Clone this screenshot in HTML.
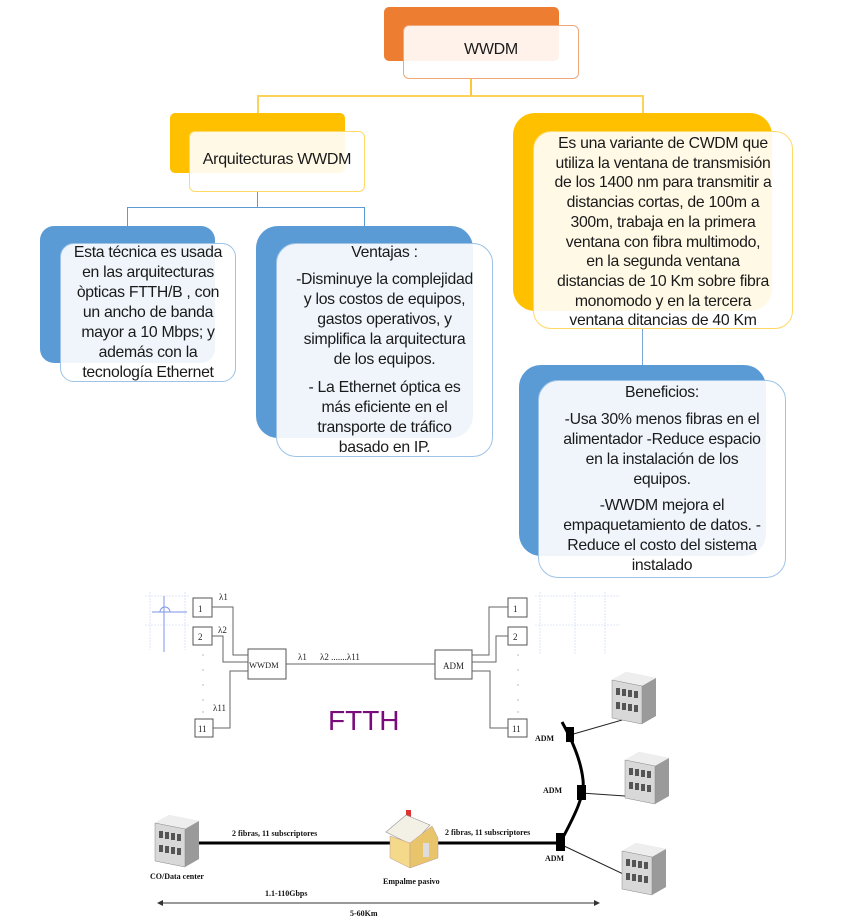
<!DOCTYPE html>
<html><head><meta charset="utf-8"><style>
body{margin:0;width:841px;height:922px;background:#fff;position:relative;overflow:hidden;font-family:"Liberation Sans",sans-serif;color:#1a1a1a}
.b{position:absolute;border-radius:14px;box-sizing:border-box}
.t{position:absolute;text-align:center;white-space:nowrap;font-size:15.8px;line-height:20px;letter-spacing:-0.3px}
.l{position:absolute}
</style></head><body>
<!-- connectors -->
<div class="l" style="left:470px;top:78px;width:2px;height:18px;background:#fcc83a"></div>
<div class="l" style="left:257px;top:95px;width:387px;height:2px;background:#fcd35a"></div>
<div class="l" style="left:257px;top:95px;width:2px;height:18px;background:#fcd35a"></div>
<div class="l" style="left:642px;top:95px;width:2px;height:18px;background:#fcd35a"></div>
<div class="l" style="left:257px;top:191px;width:1px;height:17px;background:#5b9bd5"></div>
<div class="l" style="left:127px;top:207px;width:238px;height:1px;background:#5b9bd5"></div>
<div class="l" style="left:127px;top:207px;width:1px;height:20px;background:#5b9bd5"></div>
<div class="l" style="left:364px;top:207px;width:1px;height:20px;background:#5b9bd5"></div>
<div class="l" style="left:642px;top:328px;width:1px;height:38px;background:#7aa7d8"></div>

<!-- WWDM -->
<div class="b" style="left:384px;top:7px;width:175px;height:54px;background:#ed7d31;border-radius:5px"></div>
<div class="b" style="left:403px;top:25px;width:176px;height:54px;background:rgba(255,255,255,0.9);border:1px solid #f0a77a;border-radius:6px"></div>
<div class="t" style="left:403px;top:40px;width:176px;font-size:16px">WWDM</div>

<!-- Arquitecturas -->
<div class="b" style="left:170px;top:113px;width:175px;height:60px;background:#ffc000;border-radius:5px"></div>
<div class="b" style="left:189px;top:131px;width:176px;height:61px;background:rgba(255,255,255,0.9);border:1px solid #ffd966;border-radius:6px"></div>
<div class="t" style="left:189px;top:150px;width:176px;font-size:16px">Arquitecturas WWDM</div>

<!-- Right yellow -->
<div class="b" style="left:513px;top:113px;width:259px;height:198px;background:#ffc000;border-radius:22px"></div>
<div class="b" style="left:533px;top:131px;width:260px;height:198px;background:rgba(255,255,255,0.9);border:1px solid #ffd966;border-radius:18px"></div>
<div class="t" style="left:533px;top:134px;width:260px;line-height:19.7px">Es una variante de CWDM que<br>utiliza la ventana de transmisión<br>de los 1400 nm para transmitir a<br>distancias cortas, de 100m a<br>300m, trabaja en la primera<br>ventana con fibra multimodo,<br>en la segunda ventana<br>distancias de 10 Km sobre fibra<br>monomodo y en la tercera<br>ventana ditancias de 40 Km</div>

<!-- Blue 1 -->
<div class="b" style="left:40px;top:226px;width:175px;height:137px;background:#5b9bd5;border-radius:14px"></div>
<div class="b" style="left:60px;top:243px;width:176px;height:139px;background:rgba(255,255,255,0.9);border:1px solid #9dc3e6;border-radius:14px"></div>
<div class="t" style="left:60px;top:243px;width:176px">Esta técnica es usada<br>en las arquitecturas<br>òpticas FTTH/B , con<br>un ancho de banda<br>mayor a 10 Mbps; y<br>además con la<br>tecnología Ethernet</div>

<!-- Blue 2 -->
<div class="b" style="left:256px;top:226px;width:217px;height:212px;background:#5b9bd5;border-radius:22px"></div>
<div class="b" style="left:276px;top:243px;width:217px;height:214px;background:rgba(255,255,255,0.9);border:1px solid #9dc3e6;border-radius:20px"></div>
<div class="t" style="left:276px;top:243px;width:217px">Ventajas :</div>
<div class="t" style="left:276px;top:270px;width:217px">-Disminuye la complejidad<br>y los costos de equipos,<br>gastos operativos, y<br>simplifica la arquitectura<br>de los equipos.</div>
<div class="t" style="left:276px;top:378px;width:217px">- La Ethernet óptica es<br>más eficiente en el<br>transporte de tráfico<br>basado en IP.</div>

<!-- Beneficios -->
<div class="b" style="left:519px;top:365px;width:247px;height:191px;background:#5b9bd5;border-radius:22px"></div>
<div class="b" style="left:538px;top:380px;width:248px;height:198px;background:rgba(255,255,255,0.9);border:1px solid #9dc3e6;border-radius:20px"></div>
<div class="t" style="left:538px;top:383px;width:248px">Beneficios:</div>
<div class="t" style="left:538px;top:410px;width:248px">-Usa 30% menos fibras en el<br>alimentador -Reduce espacio<br>en la instalación de los<br>equipos.</div>
<div class="t" style="left:538px;top:496px;width:248px">-WWDM mejora el<br>empaquetamiento de datos. -<br>Reduce el costo del sistema<br>instalado</div>

<!-- Bottom diagram -->
<svg style="position:absolute;left:0;top:0" width="841" height="922" font-family="Liberation Serif,serif">
<defs>
<g id="bld">
<path d="M0 8 L14 0 L44 6 L44 44 L30 52 L0 46 Z" fill="#c8c8c8"/>
<path d="M0 8 L14 0 L44 6 L30 14 Z" fill="#eee"/>
<path d="M30 14 L44 6 L44 44 L30 52 Z" fill="#9a9a9a"/>
<path d="M0 8 L30 14 L30 52 L0 46 Z" fill="#d8d8d8" stroke="#888" stroke-width="0.5"/>
<g fill="#555"><rect x="4" y="16" width="4" height="7"/><rect x="10" y="17" width="4" height="7"/><rect x="16" y="18" width="4" height="7"/><rect x="22" y="19" width="4" height="7"/>
<rect x="4" y="30" width="4" height="7"/><rect x="10" y="31" width="4" height="7"/><rect x="16" y="32" width="4" height="7"/><rect x="22" y="33" width="4" height="7"/></g>
</g>
</defs>
<g stroke="#c9d6f0" stroke-width="0.6" stroke-dasharray="2 1">
<line x1="145" y1="596" x2="190" y2="596"/><line x1="145" y1="625" x2="190" y2="625"/><line x1="150" y1="592" x2="150" y2="650"/><line x1="185" y1="592" x2="185" y2="650"/>
<line x1="535" y1="596" x2="620" y2="596"/><line x1="535" y1="625" x2="620" y2="625"/><line x1="540" y1="592" x2="540" y2="655"/><line x1="575" y1="592" x2="575" y2="655"/><line x1="605" y1="592" x2="605" y2="655"/>
</g>
<g stroke="#7d96e8" fill="none" stroke-width="1"><line x1="152" y1="612" x2="187" y2="612"/><line x1="164" y1="596" x2="164" y2="652"/><path d="M160 612 a5 5 0 0 1 10 0"/></g>
<g stroke="#555" fill="#fff" stroke-width="1">
<rect x="193" y="598" width="19" height="19"/><rect x="193" y="627" width="19" height="18"/><rect x="195" y="719" width="18" height="18"/>
<rect x="248" y="649" width="38" height="30"/><rect x="435" y="650" width="37" height="29"/>
<rect x="508" y="598" width="19" height="19"/><rect x="508" y="627" width="19" height="18"/><rect x="508" y="719" width="19" height="18"/>
</g>
<g stroke="#666" fill="none" stroke-width="1">
<polyline points="212,607 233,607 233,655 248,655"/><polyline points="212,636 223,636 223,662 248,662"/><polyline points="213,728 230,728 230,671 248,671"/>
<line x1="286" y1="664" x2="435" y2="664"/>
<polyline points="472,655 489,655 489,607 508,607"/><polyline points="472,662 496,662 496,636 508,636"/><polyline points="472,671 490,671 490,728 508,728"/>
</g>
<g fill="#888"><circle cx="203" cy="655" r="0.6"/><circle cx="203" cy="670" r="0.6"/><circle cx="203" cy="685" r="0.6"/><circle cx="203" cy="700" r="0.6"/><circle cx="203" cy="712" r="0.6"/>
<circle cx="518" cy="655" r="0.6"/><circle cx="518" cy="670" r="0.6"/><circle cx="518" cy="685" r="0.6"/><circle cx="518" cy="700" r="0.6"/><circle cx="518" cy="712" r="0.6"/></g>
<g font-size="9" fill="#222">
<text x="198" y="612">1</text><text x="198" y="640">2</text><text x="198" y="732">11</text>
<text x="513" y="612">1</text><text x="513" y="640">2</text><text x="512" y="732">11</text>
<text x="249" y="668" font-size="8.5">WWDM</text><text x="443" y="669">ADM</text>
<text x="219" y="600">λ1</text><text x="218" y="633">λ2</text><text x="213" y="711">λ11</text>
<text x="298" y="660">λ1</text><text x="320" y="660">λ2 .......λ11</text>
</g>
<text x="328" y="730" font-family="Liberation Sans,sans-serif" font-size="28" fill="#7b0a7b">FTTH</text>
<line x1="195" y1="843" x2="390" y2="843" stroke="#000" stroke-width="3"/>
<line x1="438" y1="843" x2="560" y2="843" stroke="#000" stroke-width="3"/>
<path d="M560 843 C575 815 585 795 583 780 C581 760 572 740 562 722" stroke="#000" stroke-width="3" fill="none"/>
<g stroke="#222" stroke-width="1"><line x1="570" y1="735" x2="650" y2="712"/><line x1="581" y1="793" x2="655" y2="798"/><line x1="562" y1="845" x2="640" y2="882"/></g>
<rect x="566" y="727" width="8" height="15" fill="#000"/><rect x="577" y="785" width="9" height="15" fill="#000"/><rect x="556" y="833" width="9" height="18" fill="#000"/>
<use href="#bld" x="155" y="815"/><use href="#bld" x="612" y="672"/><use href="#bld" x="625" y="752"/><use href="#bld" x="622" y="843"/>
<g>
<rect x="406" y="810" width="5" height="7" fill="#d33"/>
<path d="M386 832 L406 815 L430 825 L412 845 Z" fill="#f3f0e6" stroke="#999" stroke-width="0.6"/>
<path d="M390 836 L410 843 L410 868 L390 858 Z" fill="#f5d98a" stroke="#b99" stroke-width="0.5"/>
<path d="M410 843 L432 826 L438 838 L438 858 L410 868 Z" fill="#e8c56a" stroke="#b99" stroke-width="0.5"/>
<rect x="423" y="843" width="6" height="14" fill="#ddd"/>
</g>
<g font-size="8" fill="#111" font-weight="bold">
<text x="232" y="836">2 fibras, 11 subscriptores</text><text x="445" y="835">2 fibras, 11 subscriptores</text>
<text x="150" y="879">CO/Data center</text><text x="383" y="884">Empalme pasivo</text>
<text x="535" y="741">ADM</text><text x="543" y="793">ADM</text><text x="545" y="861">ADM</text>
<text x="265" y="896">1.1-110Gbps</text><text x="350" y="916">5-60Km</text>
</g>
<line x1="160" y1="903" x2="597" y2="903" stroke="#333" stroke-width="1"/>
<path d="M157 903 L163 900 L163 906 Z M600 903 L594 900 L594 906 Z" fill="#333"/>
</svg>
</body></html>
